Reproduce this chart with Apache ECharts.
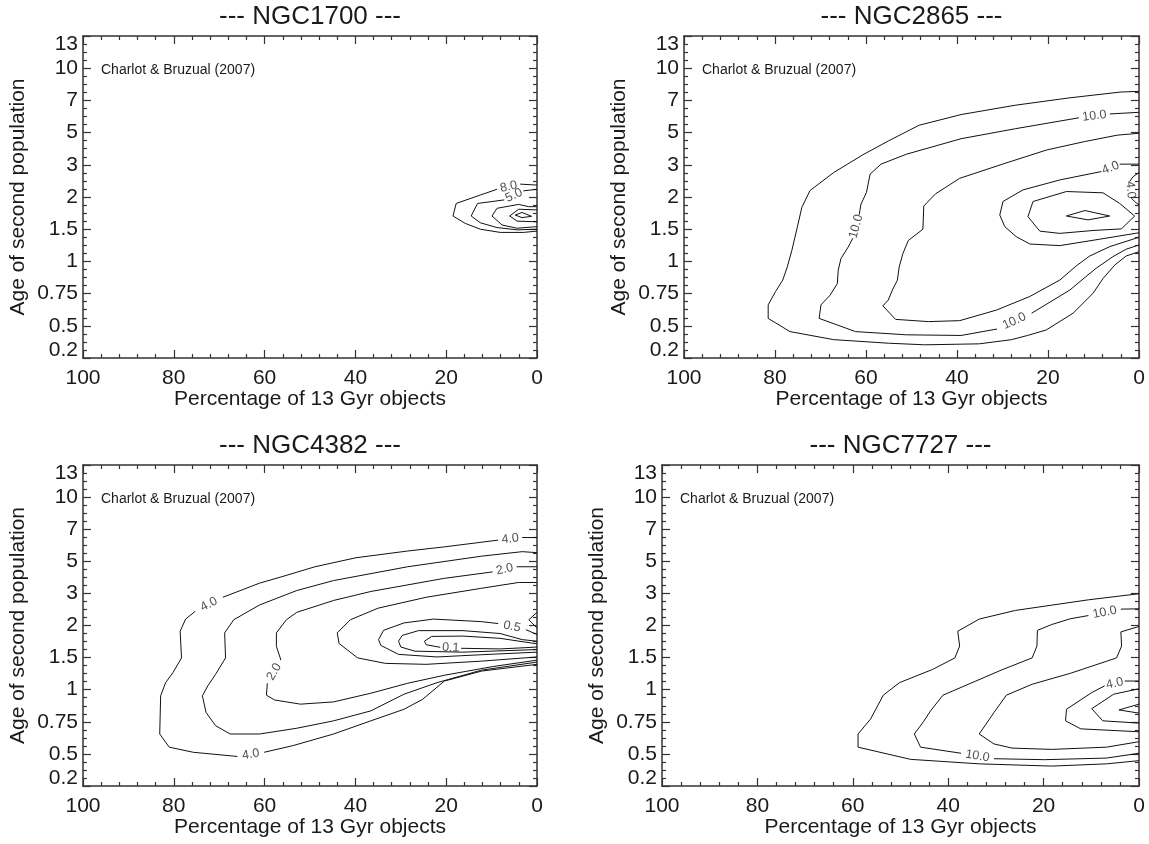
<!DOCTYPE html>
<html><head><meta charset="utf-8">
<script src="https://cdn.jsdelivr.net/npm/echarts@6/dist/echarts.min.js"></script>
<style>html,body{margin:0;padding:0;background:#fff}#c{width:1149px;height:844px}</style>
</head><body><div id="c"></div>
<script>
// ---------- axis tick labels ----------
const yTickPos = [0.25, 1, 2, 3, 4, 5, 6, 7, 8, 9, 9.75];
const yTickLabels = ['0.2', '0.5', '0.75', '1', '1.5', '2', '3', '5', '7', '10', '13'];
const panelNames = ['NGC1700', 'NGC2865', 'NGC4382', 'NGC7727'];
const sourceNote = 'Charlot & Bruzual (2007)';
const xTitle = 'Percentage of 13 Gyr objects';
const yTitle = 'Age of second population';

// ---------- contours: [percent of 13 Gyr objects, age-axis position]; null = gap holding a label ----------
// NGC1700
const n1700_c1 = [[0,5.37],[3.7,5.40],null,[8.8,5.24],[12.5,5.06],[17.8,4.80],[18.5,4.41],[15.8,4.18],[12.5,4.0],[8.1,3.9],[3,3.9],[0,3.94]];
const n1700_c1_lab = ['8.0'];
const n1700_c2 = [[0,5.24],[3.0,5.19],null,[7.2,4.91],[13.1,4.80],[14.5,4.41],[12.5,4.20],[8.8,4.05],[4.4,3.98],[0,4.0]];
const n1700_c2_lab = ['5.0'];
const n1700_c3 = [[0,4.70],[1.85,4.70],[4.05,4.77],[8.8,4.65],[9.9,4.41],[7.7,4.13],[4.4,4.03],[0,4.08]];
const n1700_c4 = [[0,4.60],[4.05,4.62],[6.0,4.41],[4.4,4.25],[0,4.23]];
const n1700_c5 = [[4.8,4.44],[3.3,4.52],[1.2,4.40],[3.3,4.36],[4.8,4.44]];

// NGC2865
const n2865_a = [[0,8.28],[4.0,8.26],[15.2,8.08],[27.2,7.85],[39.1,7.56],[48.3,7.23],[55.1,6.74],[60.7,6.31],[67.1,5.76],[72.3,5.20],[74.1,4.68],[75.1,4.06],[76.3,3.34],[77.3,2.83],[78.3,2.42],[79.9,2.06],[81.5,1.65],[81.5,1.23],[76.7,0.82],[67.1,0.57],[55.1,0.46],[47.1,0.41],[35.1,0.44],[28.0,0.57],[24.5,0.70],[20.4,0.87],[14.5,1.39],[10.1,2.01],[7.9,2.47],[5.3,2.89],[2.8,3.17],[0,3.30]];
const n2865_b = [[0,7.63],[6.4,7.58],null,[13.2,7.46],[27.2,7.12],[39.1,6.81],[51.1,6.33],[56.7,6.02],[59.1,5.71],[59.9,5.14],[61.1,4.78],[61.5,4.45],null,[62.9,3.72],[63.9,3.45],[65.5,3.09],[66.1,2.73],[66.3,2.31],[67.9,1.95],[69.9,1.65],[70.3,1.23],[62.3,0.82],[51.1,0.72],[39.1,0.70],[31.2,0.90],null,[23.6,1.39],[15.2,2.11],[13.0,2.37],[9.4,2.79],[5.7,3.15],[2.8,3.38],[0,3.51]];
const n2865_b_lab = ['10.0', '10.0', '10.0'];
const n2865_c = [[0,6.98],[4.8,6.92],[12,6.72],[20.3,6.46],[30,6.02],[39.4,5.58],[44.7,5.1],[47.3,4.72],[47.5,4.0],[50.7,3.65],[51.9,3.24],[52.7,2.83],[53.1,2.42],[54.2,2.11],[55.1,1.80],[56.3,1.62],[53.5,1.20],[46.3,1.13],[39.4,1.16],[31.3,1.49],[24.0,1.91],[17.4,2.42],[13.8,2.86],[10.8,3.17],[6.4,3.46],[0,3.75]];
const n2865_d = [[0,6.02],[4.24,6.02],null,[8.27,5.79],[17.4,5.53],[25.5,5.22],[29.9,4.86],[30.6,4.44],[29.5,4.08],[27.0,3.77],[24.0,3.54],[17.4,3.49],[8.6,3.69],[0,3.89]];
const n2865_d_lab = ['4.0'];
const n2865_e = [[23.3,4.86],[15.95,5.17],[7.9,5.13],[4.25,4.80],[0.95,4.41],[3.87,4.01],[10.1,3.96],[17.4,3.87],[21.8,3.94],[24.4,4.39],[23.3,4.86]];
const n2865_f = [[15.95,4.41],[11.9,4.58],[6.45,4.41],[11.2,4.29],[15.95,4.41]];
const n2865_g = [[0,5.76],[1.31,5.63],[2.05,5.48],null,[1.68,4.96],[0.95,4.86],[0,4.75]];
const n2865_g_lab = ['4.0'];

// NGC4382
const n4382_l1 = [[0,7.74],[3.26,7.74],null,[8.55,7.66],[20.36,7.45],[28.5,7.32],[39.9,7.11],[48.9,6.83],[56.2,6.52],[61.1,6.32],[69.2,5.88],null,[75.3,5.44],[77.4,5.20],[78.6,4.82],[78.3,3.99],[80.2,3.53],[81.8,3.22],[82.9,2.81],[83.1,1.62],[81.0,1.21],[75.7,1.05],[66.0,0.92],null,[60.1,1.05],[53.7,1.26],[44.8,1.62],[36.6,2.03],[29.3,2.39],[25.2,2.70],[20.4,3.27],[12.2,3.58],[0,3.79]];
const n4382_l1_lab = ['4.0', '4.0', '4.0'];
const n4382_l2 = [[0,7.27],[3.26,7.30],[12.2,7.16],[28.5,6.83],[44.8,6.40],[52.9,6.09],[61.1,5.64],[66.8,5.18],[68.8,4.77],[68.6,3.99],[70.8,3.48],[72.5,3.12],[73.7,2.81],[72.9,2.29],[70.8,1.88],[67.6,1.62],[61.1,1.62],[52.9,1.80],[44.8,2.03],[36.6,2.34],[29.3,2.86],[22.0,3.22],[12.2,3.61],[0,3.86]];
const n4382_l3 = [[0,6.83],[4.48,6.83],null,[9.77,6.67],[20.4,6.47],[36.6,6.06],[44.8,5.78],[52.9,5.41],[55.2,5.18],[57.4,4.77],[57.4,4.35],[56.4,3.92],null,[59.4,3.20],[59.6,2.83],[57.8,2.68],[52.1,2.55],[44.8,2.62],[36.6,2.89],[28.5,3.20],[20.4,3.45],[9.77,3.72],[0,3.92]];
const n4382_l3_lab = ['2.0', '2.0'];
const n4382_l4 = [[0,6.34],[4.07,6.34],[12.2,6.16],[24.4,5.88],[35.0,5.54],[41.1,5.18],[44.0,4.77],[43.6,4.44],[39.5,3.99],[33.4,3.82],[24.4,3.79],[12.2,3.89],[0,4.02]];
const n4382_l5 = [[0,4.72],[2.44,4.87],null,[8.55,5.06],[12.2,5.12],[22.8,5.20],[29.3,5.08],[33.8,4.85],[34.9,4.56],[34.4,4.38],[30.5,4.10],[22.0,4.02],[12.2,4.09],[0,4.17]];
const n4382_l5_lab = ['0.5'];
const n4382_l6 = [[0,4.51],[3.26,4.56],[8.14,4.75],[16.3,4.84],[26.1,4.84],[29.7,4.69],[30.5,4.51],[30.0,4.33],[26.9,4.20],[16.3,4.17],[0,4.25]];
const n4382_l7 = [[0,4.43],[2.44,4.48],[8.14,4.60],[16.3,4.67],[23.2,4.66],[24.8,4.51],[24.4,4.40],[21.3,4.32],null,[16.7,4.29],[8.14,4.27],[2.44,4.31],[0,4.33]];
const n4382_l7_lab = ['0.1'];
const n4382_l8 = [[0,5.41],[1.8,5.18],[0,4.92]];

// NGC7727
const n7727_a = [[0,5.99],[10.6,5.80],[25.9,5.47],[33.5,5.20],[38.0,4.82],[37.6,4.36],[38.6,3.99],[43.3,3.63],[50.2,3.22],[53.6,2.83],[56.3,2.08],[58.9,1.62],[58.9,1.21],[47.9,0.83],[33.5,0.69],[18.3,0.62],[6.8,0.69],[0,0.79]];
const n7727_b = [[0,5.52],[3.8,5.51],null,[10.6,5.31],[14.4,5.21],[18.3,5.03],[21.3,4.85],[21.4,4.36],[22.4,3.99],[28.9,3.61],[34.2,3.27],[41.1,2.83],[43.7,2.34],[45.2,2.00],[47.1,1.62],[45.8,1.21],[37.3,1.02],null,[30.4,0.85],[19.8,0.82],[6.8,0.87],[0,1.02]];
const n7727_b_lab = ['10.0', '10.0'];
const n7727_c = [[0,4.97],[3.8,4.80],[3.65,4.36],[4.7,3.99],[14.4,3.51],[22.4,3.17],[27.8,2.83],[30.4,2.29],[33.5,1.62],[30.4,1.31],[26.6,1.18],[18.3,1.14],[6.8,1.21],[0,1.38]];
const n7727_d = [[0,3.27],[3.0,3.27],null,[7.2,3.12],[9.9,2.91],[15.2,2.39],[15.4,2.03],[12.2,1.78],[0,1.69]];
const n7727_d_lab = ['4.0'];
const n7727_e = [[0,3.03],[5.3,2.86],[9.9,2.41],[7.6,2.03],[0,1.96]];
const n7727_f = [[0,2.55],[4.2,2.37],[0,2.27]];

// ---------- panel assembly ----------
const panelContours = [
  [[n1700_c1, n1700_c1_lab], [n1700_c2, n1700_c2_lab], [n1700_c3], [n1700_c4], [n1700_c5]],
  [[n2865_a], [n2865_b, n2865_b_lab], [n2865_c], [n2865_d, n2865_d_lab], [n2865_e], [n2865_f], [n2865_g, n2865_g_lab]],
  [[n4382_l1, n4382_l1_lab], [n4382_l2], [n4382_l3, n4382_l3_lab], [n4382_l4], [n4382_l5, n4382_l5_lab], [n4382_l6], [n4382_l7, n4382_l7_lab], [n4382_l8]],
  [[n7727_a], [n7727_b, n7727_b_lab], [n7727_c], [n7727_d, n7727_d_lab], [n7727_e], [n7727_f]]
];

const layouts = [
  {left: 83, top: 36, width: 454, height: 322},
  {left: 684, top: 36, width: 455, height: 322},
  {left: 83, top: 465, width: 454, height: 321},
  {left: 662, top: 465, width: 477, height: 321}
];

const FONT = "'Liberation Sans', Arial, Helvetica, sans-serif";
const INK = '#1a1a1a';
const AXC = '#333';

function splitPieces(arr) {
  const out = [[]];
  arr.forEach(p => { if (p === null) out.push([]); else out[out.length - 1].push(p); });
  return out;
}
const labelMap = {};
yTickPos.forEach((v, i) => { labelMap[v.toFixed(2)] = yTickLabels[i]; });

const grid = [], xAxis = [], yAxis = [], title = [], series = [];
const tickLine = {color: AXC, width: 1.2};
layouts.forEach((l, p) => {
  grid.push({left: l.left, top: l.top, width: l.width, height: l.height, containLabel: false, outerBoundsMode: 'none'});
  const xBase = {
    gridIndex: p, type: 'value', min: 0, max: 100, interval: 20, inverse: true,
    axisLine: {show: true, onZero: false, lineStyle: {color: AXC, width: 1.5}},
    axisTick: {show: true, inside: true, length: 8, lineStyle: tickLine},
    minorTick: {show: true, splitNumber: 5, length: 4, lineStyle: tickLine},
    splitLine: {show: false}, minorSplitLine: {show: false}
  };
  xAxis.push(Object.assign({}, xBase, {
    position: 'bottom',
    axisLabel: {show: true, margin: 10, fontSize: 21, color: INK, fontFamily: FONT},
    name: xTitle, nameLocation: 'middle', nameGap: 31, nameMoveOverlap: false,
    nameTextStyle: {fontSize: 21, color: INK, fontFamily: FONT}
  }));
  xAxis.push(Object.assign({}, xBase, {position: 'top', axisLabel: {show: false}}));
  const yBase = {
    gridIndex: p, type: 'value', min: 0, max: 10, interval: 1,
    axisLine: {show: true, onZero: false, lineStyle: {color: AXC, width: 1.5}},
    axisTick: {show: true, inside: true, length: 8, lineStyle: tickLine},
    minorTick: {show: true, splitNumber: 4, length: 4, lineStyle: tickLine},
    axisLabel: {show: false}, splitLine: {show: false}, minorSplitLine: {show: false}
  };
  yAxis.push(Object.assign({}, yBase, {position: 'left'}));
  yAxis.push({
    gridIndex: p, type: 'value', min: 0, max: 10, interval: 0.25, position: 'left',
    axisLine: {show: false, onZero: false}, axisTick: {show: false}, splitLine: {show: false},
    axisLabel: {show: true, margin: 5, fontSize: 21, color: INK, fontFamily: FONT,
      formatter: v => labelMap[Number(v).toFixed(2)] || ''},
    name: yTitle, nameLocation: 'middle', nameGap: 54, nameRotate: 90, nameMoveOverlap: false,
    nameTextStyle: {fontSize: 21, color: INK, fontFamily: FONT}
  });
  yAxis.push(Object.assign({}, yBase, {position: 'right'}));

  title.push({
    text: '--- ' + panelNames[p] + ' ---', left: l.left + l.width / 2, top: l.top - 32,
    textAlign: 'center', padding: 0,
    textStyle: {fontSize: 26, fontWeight: 'normal', color: INK, fontFamily: FONT}
  });
  title.push({
    text: sourceNote, left: l.left + 18, top: l.top + 27, padding: 0,
    textStyle: {fontSize: 14, fontWeight: 'normal', color: INK, fontFamily: FONT}
  });

  panelContours[p].forEach(([arr]) => {
    splitPieces(arr).forEach(piece => {
      series.push({
        type: 'line', xAxisIndex: 2 * p, yAxisIndex: 3 * p, data: piece,
        symbol: 'none', showSymbol: false, silent: true, animation: false,
        lineStyle: {color: '#111', width: 1}, z: 3
      });
    });
  });
});

const chart = echarts.init(document.getElementById('c'), null, {renderer: 'canvas'});
chart.setOption({animation: false, backgroundColor: '#fff', grid, xAxis, yAxis, title, series});

// contour labels: placed in each gap, rotated along the gap chord (computed through the axes)
const labelSeries = [];
panelContours.forEach((list, p) => {
  const finder = {xAxisIndex: 2 * p, yAxisIndex: 3 * p};
  list.forEach(([arr, labs]) => {
    if (!labs) return;
    const pcs = splitPieces(arr);
    for (let i = 0; i < pcs.length - 1; i++) {
      const a = pcs[i][pcs[i].length - 1], b = pcs[i + 1][0];
      const pa = chart.convertToPixel(finder, a), pb = chart.convertToPixel(finder, b);
      let ang = Math.atan2(-(pb[1] - pa[1]), pb[0] - pa[0]) * 180 / Math.PI;
      if (ang > 90) ang -= 180;
      if (ang < -90) ang += 180;
      labelSeries.push({
        type: 'scatter', xAxisIndex: 2 * p, yAxisIndex: 3 * p, symbolSize: 0,
        silent: true, animation: false, z: 5,
        data: [{value: [(a[0] + b[0]) / 2, (a[1] + b[1]) / 2],
          label: {show: true, position: 'inside', formatter: labs[i], rotate: ang,
            fontSize: 12.5, color: '#222', fontFamily: FONT}}]
      });
    }
  });
});
chart.setOption({series: series.concat(labelSeries)});
</script></body></html>
